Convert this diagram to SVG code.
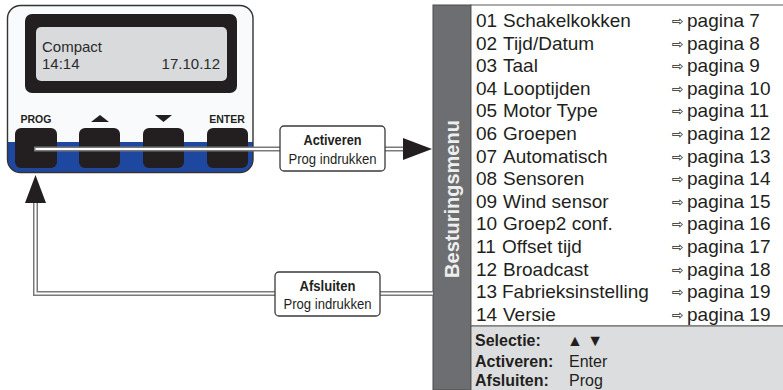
<svg xmlns="http://www.w3.org/2000/svg" width="783" height="390" viewBox="0 0 783 390">
<style>
.lcd{font-family:"Liberation Sans",Arial,sans-serif;font-size:15px;fill:#2b2b2b}
.btnlbl{font-family:"Liberation Sans",Arial,sans-serif;font-size:10.5px;font-weight:bold;fill:#231f20}
.btn{fill:#231f20}
.item{font-family:"Liberation Sans",Arial,sans-serif;font-size:19px;fill:#231f20}
.arr{font-family:"DejaVu Sans",sans-serif;font-size:14px;fill:#231f20}
.leg{font-family:"Liberation Sans",Arial,sans-serif;font-size:16px;fill:#231f20}
.lb{font-family:"Liberation Sans",Arial,sans-serif;font-size:14px;fill:#231f20;text-anchor:middle}
.wire-o{fill:none;stroke:#7a7a7a;stroke-width:5}
.wire-i{fill:none;stroke:#ffffff;stroke-width:2}
.label{fill:#ffffff;stroke:#3a3a3a;stroke-width:1.3}
</style>

<g id="device">
  <clipPath id="devclip"><rect x="7.5" y="5.5" width="245.5" height="167" rx="13"/></clipPath>
  <rect x="7.5" y="5.5" width="245.5" height="167" rx="13" fill="#f9fafb"/>
  <rect x="7.5" y="142" width="246" height="32" fill="#1e48a0" clip-path="url(#devclip)"/>
  <rect x="7.5" y="5.5" width="245.5" height="167" rx="13" fill="none" stroke="#333" stroke-width="1.4"/>
  <rect x="25" y="14" width="212" height="79" rx="7" fill="#231f20"/>
  <rect x="36" y="27" width="191" height="54" rx="5" fill="#d9dadc"/>
  <text class="lcd" x="42" y="52">Compact</text>
  <text class="lcd" x="42" y="69">14:14</text>
  <text class="lcd" x="220" y="69" text-anchor="end">17.10.12</text>
  <text class="btnlbl" x="36" y="123" text-anchor="middle">PROG</text>
  <polygon points="91,122 100,115 109,122" fill="#231f20"/>
  <polygon points="155,115 172,115 163.5,122" fill="#231f20"/>
  <text class="btnlbl" x="227" y="123" text-anchor="middle">ENTER</text>
  <rect class="btn" x="15" y="128" width="42" height="40" rx="6"/>
  <rect class="btn" x="79" y="128" width="41" height="40" rx="6"/>
  <rect class="btn" x="143" y="128" width="41" height="40" rx="6"/>
  <rect class="btn" x="207" y="128" width="41" height="40" rx="6"/>
</g>

<g id="menu">
  <rect x="433" y="5" width="38" height="385" fill="#6d6e71" stroke="#4a4a4a" stroke-width="1"/>
  <text x="459" y="199" transform="rotate(-90 459 199)" text-anchor="middle" font-family="Liberation Sans, Arial, sans-serif" font-size="20" font-weight="bold" fill="#eeeeee">Besturingsmenu</text>
  <rect x="471" y="5" width="313" height="321" fill="#ffffff" stroke="#5a5a5a" stroke-width="1"/>
  <rect x="471" y="326" width="313" height="65" fill="#dcdddf" stroke="#5a5a5a" stroke-width="1"/>
  <g class="item">
    <text x="476" y="27">01</text><text x="503" y="27">Schakelkokken</text>
    <text x="476" y="49.6">02</text><text x="503" y="49.6">Tijd/Datum</text>
    <text x="476" y="72.2">03</text><text x="503" y="72.2">Taal</text>
    <text x="476" y="94.8">04</text><text x="503" y="94.8">Looptijden</text>
    <text x="476" y="117.4">05</text><text x="503" y="117.4">Motor Type</text>
    <text x="476" y="140">06</text><text x="503" y="140">Groepen</text>
    <text x="476" y="162.6">07</text><text x="503" y="162.6">Automatisch</text>
    <text x="476" y="185.2">08</text><text x="503" y="185.2">Sensoren</text>
    <text x="476" y="207.8">09</text><text x="503" y="207.8">Wind sensor</text>
    <text x="476" y="230.4">10</text><text x="503" y="230.4">Groep2 conf.</text>
    <text x="476" y="253">11</text><text x="502" y="253">Offset tijd</text>
    <text x="476" y="275.6">12</text><text x="503" y="275.6">Broadcast</text>
    <text x="476" y="298.2">13</text><text x="502" y="298.2">Fabrieksinstelling</text>
    <text x="476" y="320.8">14</text><text x="503" y="320.8">Versie</text>
  </g>
  <g class="arr">
    <text x="672" y="26">⇨</text>
    <text x="672" y="48.6">⇨</text>
    <text x="672" y="71.2">⇨</text>
    <text x="672" y="93.8">⇨</text>
    <text x="672" y="116.4">⇨</text>
    <text x="672" y="139">⇨</text>
    <text x="672" y="161.6">⇨</text>
    <text x="672" y="184.2">⇨</text>
    <text x="672" y="206.8">⇨</text>
    <text x="672" y="229.4">⇨</text>
    <text x="672" y="252">⇨</text>
    <text x="672" y="274.6">⇨</text>
    <text x="672" y="297.2">⇨</text>
    <text x="672" y="319.8">⇨</text>
  </g>
  <g class="item">
    <text x="687" y="27">pagina 7</text>
    <text x="687" y="49.6">pagina 8</text>
    <text x="687" y="72.2">pagina 9</text>
    <text x="687" y="94.8">pagina 10</text>
    <text x="687" y="117.4">pagina 11</text>
    <text x="687" y="140">pagina 12</text>
    <text x="687" y="162.6">pagina 13</text>
    <text x="687" y="185.2">pagina 14</text>
    <text x="687" y="207.8">pagina 15</text>
    <text x="687" y="230.4">pagina 16</text>
    <text x="687" y="253">pagina 17</text>
    <text x="687" y="275.6">pagina 18</text>
    <text x="687" y="298.2">pagina 19</text>
    <text x="687" y="320.8">pagina 19</text>
  </g>
  <g class="leg">
    <text x="475" y="346" font-weight="bold">Selectie:</text><text x="567" y="346">▲ ▼</text>
    <text x="475" y="367" font-weight="bold">Activeren:</text><text x="569" y="367">Enter</text>
    <text x="475" y="386" font-weight="bold">Afsluiten:</text><text x="569" y="386">Prog</text>
  </g>
</g>

<g id="connectors">
  <path class="wire-o" d="M34 149 H404"/>
  <path class="wire-i" d="M35.5 149 H404"/>
  <polygon points="403,138 432,149 403,160" fill="#231f20"/>
  <path class="wire-o" d="M433 293.5 H35.5 V202"/>
  <path class="wire-i" d="M433 293.5 H35.5 V202"/>
  <polygon points="35.5,175 25,203 46,203" fill="#231f20"/>
</g>

<g id="label-activeren">
  <rect class="label" x="280" y="126" width="105" height="45" rx="4"/>
  <text class="lb" x="332.5" y="145" font-weight="bold" textLength="58" lengthAdjust="spacingAndGlyphs">Activeren</text>
  <text class="lb" x="332.5" y="164" textLength="88" lengthAdjust="spacingAndGlyphs">Prog indrukken</text>
</g>

<g id="label-afsluiten">
  <rect class="label" x="275" y="272" width="105" height="44" rx="4"/>
  <text class="lb" x="327.5" y="291" font-weight="bold" textLength="56" lengthAdjust="spacingAndGlyphs">Afsluiten</text>
  <text class="lb" x="327.5" y="309" textLength="88" lengthAdjust="spacingAndGlyphs">Prog indrukken</text>
</g>
</svg>
